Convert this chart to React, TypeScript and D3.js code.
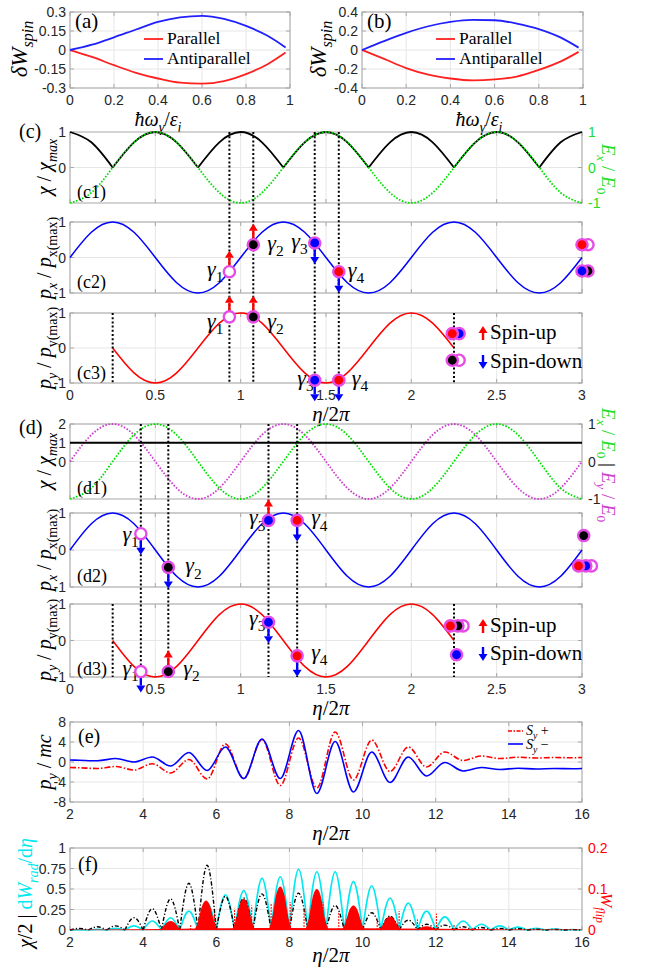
import React, { useEffect, useRef } from 'react';
import * as d3 from 'd3';

// ---------- (a), (b): spin-resolved emission difference ----------
const photonEnergy = [0, 0.1, 0.2, 0.3, 0.4, 0.5, 0.6, 0.7, 0.8, 0.9, 0.98];
const parallelA = [0, -0.055, -0.12, -0.18, -0.225, -0.258, -0.265, -0.245, -0.19, -0.11, -0.02];
const antiparallelA = [0, 0.042, 0.1, 0.162, 0.222, 0.258, 0.27, 0.245, 0.19, 0.11, 0.02];
const parallelB = [0, -0.094, -0.19, -0.26, -0.3, -0.32, -0.31, -0.28, -0.21, -0.12, -0.02];
const antiparallelB = [0, 0.094, 0.18, 0.25, 0.296, 0.317, 0.313, 0.278, 0.22, 0.13, 0.025];
const xTicksAB = [0, 0.2, 0.4, 0.6, 0.8, 1];
const yTicksA = [-0.3, -0.15, 0, 0.15, 0.3];
const yTicksB = [-0.4, -0.2, 0, 0.2, 0.4];

// ---------- (c), (d): fields and momenta over three periods ----------
const etaGrid = [0, 0.125, 0.25, 0.375, 0.5, 0.625, 0.75, 0.875, 1, 1.125, 1.25, 1.375, 1.5, 1.625, 1.75, 1.875, 2, 2.125, 2.25, 2.375, 2.5, 2.625, 2.75, 2.875, 3];
const exField = [-1, -0.71, 0, 0.71, 1, 0.71, 0, -0.71, -1, -0.71, 0, 0.71, 1, 0.71, 0, -0.71, -1, -0.71, 0, 0.71, 1, 0.71, 0, -0.71, -1];
const chiLinear = [1, 0.71, 0, 0.71, 1, 0.71, 0, 0.71, 1, 0.71, 0, 0.71, 1, 0.71, 0, 0.71, 1, 0.71, 0, 0.71, 1, 0.71, 0, 0.71, 1];
const eyField = [0, 0.71, 1, 0.71, 0, -0.71, -1, -0.71, 0, 0.71, 1, 0.71, 0, -0.71, -1, -0.71, 0, 0.71, 1, 0.71, 0, -0.71, -1, -0.71, 0];
const pxMomentum = [0, 0.71, 1, 0.71, 0, -0.71, -1, -0.71, 0, 0.71, 1, 0.71, 0, -0.71, -1, -0.71, 0, 0.71, 1, 0.71, 0, -0.71, -1, -0.71, 0];
const pyEta = [0.25, 0.375, 0.5, 0.625, 0.75, 0.875, 1, 1.125, 1.25, 1.375, 1.5, 1.625, 1.75, 1.875, 2, 2.125, 2.25];
const pyMomentum = [0, -0.71, -1, -0.71, 0, 0.71, 1, 0.71, 0, -0.71, -1, -0.71, 0, 0.71, 1, 0.71, 0];
const chiCircularEta = [0, 3];
const chiCircular = [1, 1];
const etaTicks = [0, 0.5, 1, 1.5, 2, 2.5, 3];

// photon emissions gamma1..gamma4
const photonFill = ['#ffffff', '#000000', '#0000ff', '#ff0000'];
const cEmitEta = [0.934, 1.074, 1.434, 1.575];
const cEmitPx = [-0.4, 0.36, 0.41, -0.4];
const cEmitPy = [0.89, 0.89, -0.92, -0.92];
const cSpinPx = ['up', 'up', 'down', 'down'];
const cSpinPy = ['up', 'up', 'down', 'down'];
const dEmitEta = [0.415, 0.576, 1.163, 1.331];
const dEmitPx = [0.44, -0.47, 0.8, 0.8];
const dEmitPy = [-0.85, -0.85, 0.5, -0.42];
const dSpinPx = ['down', 'down', 'up', 'down'];
const dSpinPy = ['down', 'up', 'down', 'down'];
const cuts = [0.25, 2.25];

// final electron states [eta, value, fill], back to front
const cEndPx = [[3.035, 0.36, '#ffffff'], [3.0, 0.36, '#ff0000'], [3.035, -0.38, '#000000'], [3.0, -0.38, '#0000ff']];
const cEndPy = [[2.28, 0.41, '#0000ff'], [2.24, 0.41, '#ff0000'], [2.28, -0.35, '#ffffff'], [2.24, -0.35, '#000000']];
const dEndPx = [[3.01, 0.39, '#000000'], [3.055, -0.43, '#ffffff'], [3.022, -0.43, '#0000ff'], [2.98, -0.43, '#ff0000']];
const dEndPy = [[2.303, 0.4, '#ffffff'], [2.273, 0.4, '#000000'], [2.229, 0.4, '#ff0000'], [2.265, -0.39, '#0000ff']];

// ---------- (e): transverse momentum ----------
const etaE = [2, 2.25, 2.75, 3.25, 3.75, 4.25, 4.75, 5.25, 5.75, 6.25, 6.75, 7.25, 7.75, 8.25, 8.75, 9.25, 9.75, 10.25, 10.75, 11.25, 11.75, 12.25, 12.75, 13.25, 13.75, 14.25, 14.75, 15.25, 15.75, 16];
const pySpinUp = [-1.1, -1.15, -1.3, -0.9, -1.6, -0.35, -2.2, 0.5, -3.4, 3.6, -3.3, 4.5, -4.7, 4.8, -5.2, 6.0, -3.6, 4.4, -1.9, 3.0, -1.0, 2.0, 0.3, 1.2, 0.7, 0.95, 0.8, 0.9, 0.85, 0.9];
const pySpinDown = [0.4, 0.35, 0.25, 0.7, 0.0, 1.0, -0.8, 1.9, -1.7, 3.0, -3.3, 4.6, -3.3, 6.3, -6.3, 4.1, -6.0, 2.0, -4.1, 1.0, -2.8, -0.1, -1.8, -1.1, -1.5, -1.25, -1.4, -1.3, -1.35, -1.3];
const longTicks = [2, 4, 6, 8, 10, 12, 14, 16];
const pyTicks = [-8, -4, 0, 4, 8];

// ---------- (f): chi, radiation rate, spin-flip probability ----------
const archStarts = [2, 2.5, 3, 3.5, 4, 4.5, 5, 5.5, 6, 6.5, 7, 7.5, 8, 8.5, 9, 9.5, 10, 10.5, 11, 11.5, 12, 12.5, 13, 13.5, 14, 14.5, 15, 15.5];
const chiHalf = [0.02, 0.04, 0.05, 0.15, 0.26, 0.38, 0.57, 0.79, 0.41, 0.39, 0.44, 0.42, 0.45, 0.37, 0.3, 0.27, 0.21, 0.17, 0.12, 0.07, 0.06, 0.04, 0.03, 0.02, 0.015, 0.01, 0.008, 0.005];
const radRate = [0.005, 0.01, 0.02, 0.05, 0.11, 0.15, 0.23, 0.33, 0.43, 0.48, 0.63, 0.65, 0.74, 0.71, 0.71, 0.59, 0.54, 0.39, 0.33, 0.23, 0.16, 0.11, 0.07, 0.05, 0.035, 0.02, 0.012, 0.006];
const flipHumpEta = [4.75, 5.72, 6.75, 7.75, 8.75, 9.75, 10.75, 11.75, 12.75];
const flipHumpHeight = [0.022, 0.072, 0.076, 0.106, 0.1, 0.06, 0.033, 0.009, 0.003];
const humpOffsets = [-0.32, -0.22, -0.12, 0, 0.12, 0.22, 0.32];
const humpProfile = [0, 0.28, 0.78, 1, 0.78, 0.28, 0];
const flipSpikeEta = [5.3, 5.95, 6.5, 6.97, 7.5, 8.02, 8.4, 8.92, 9.35, 9.9, 10.4, 11.0, 11.5, 12.02, 12.5, 13.0];
const flipSpikeHeight = [0.012, 0.04, 0.052, 0.06, 0.064, 0.068, 0.05, 0.068, 0.042, 0.038, 0.03, 0.046, 0.026, 0.04, 0.014, 0.006];
const flipFloorEta = [2, 4, 6, 8, 10, 12, 14, 16];
const flipFloor = [0.001, 0.002, 0.004, 0.005, 0.004, 0.003, 0.0015, 0.001];
const fTicks = [0, 0.25, 0.5, 0.75, 1];
const flipTicks = [0, 0.1, 0.2];

const W = 659;
const H = 973;
const SERIF = 'Liberation Serif, DejaVu Serif, serif';
const SANS = 'Liberation Sans, DejaVu Sans, sans-serif';
const GRID = '#e6e6e6';
const BOX = '#a8a8a8';
const RING = '#e64ce6';
const GREEN = '#00e000';
const GREEN_TXT = '#22dd22';
const MAGENTA = '#cc40cc';
const CYAN = '#00e8f0';

function frame(svg, o) {
  const g = svg.append('g');
  const x = d3.scaleLinear().domain(o.xd).range([o.l, o.r]);
  const y = d3.scaleLinear().domain(o.yd).range([o.b, o.t]);
  const gridY = o.gridY || o.yt;
  o.xt.forEach(t => {
    g.append('line').attr('x1', x(t)).attr('x2', x(t)).attr('y1', o.t).attr('y2', o.b).attr('stroke', GRID);
  });
  gridY.forEach(t => {
    g.append('line').attr('x1', o.l).attr('x2', o.r).attr('y1', y(t)).attr('y2', y(t)).attr('stroke', GRID);
  });
  g.append('rect').attr('x', o.l).attr('y', o.t).attr('width', o.r - o.l).attr('height', o.b - o.t)
    .attr('fill', 'none').attr('stroke', BOX);
  const tl = 4;
  o.xt.forEach(t => {
    g.append('line').attr('x1', x(t)).attr('x2', x(t)).attr('y1', o.b).attr('y2', o.b - tl).attr('stroke', BOX);
    g.append('line').attr('x1', x(t)).attr('x2', x(t)).attr('y1', o.t).attr('y2', o.t + tl).attr('stroke', BOX);
  });
  o.yt.forEach(t => {
    g.append('line').attr('x1', o.l).attr('x2', o.l + tl).attr('y1', y(t)).attr('y2', y(t)).attr('stroke', BOX);
    if (!o.rightAxis) g.append('line').attr('x1', o.r).attr('x2', o.r - tl).attr('y1', y(t)).attr('y2', y(t)).attr('stroke', BOX);
  });
  if (o.xLab) {
    o.xt.forEach(t => {
      g.append('text').attr('x', x(t)).attr('y', o.b + 17).attr('text-anchor', 'middle')
        .style('font-family', SANS).attr('font-size', 14).attr('fill', '#262626').text(String(t));
    });
  }
  const yl = o.yLabTicks || o.yt;
  yl.forEach(t => {
    g.append('text').attr('x', o.l - 4).attr('y', y(t) + 5).attr('text-anchor', 'end')
      .style('font-family', SANS).attr('font-size', 14).attr('fill', '#262626').text(String(t));
  });
  return { x, y, o };
}

function rightAxis(svg, p, domain, ticks, color) {
  const o = p.o;
  const y = d3.scaleLinear().domain(domain).range([o.b, o.t]);
  ticks.forEach(t => {
    svg.append('line').attr('x1', o.r).attr('x2', o.r - 4).attr('y1', y(t)).attr('y2', y(t)).attr('stroke', BOX);
    svg.append('text').attr('x', o.r + 6).attr('y', y(t) + 5).style('font-family', SANS).attr('font-size', 14)
      .attr('fill', color).text(String(t));
  });
  return y;
}

function rich(g, parts, size, opt) {
  const t = g.append('text').style('font-family', SERIF).attr('font-size', size)
    .attr('fill', opt.fill || '#000').attr('text-anchor', opt.anchor || 'start');
  if (opt.rotate) t.attr('transform', `translate(${opt.x},${opt.y}) rotate(${opt.rotate})`);
  else t.attr('x', opt.x).attr('y', opt.y);
  let shift = 0;
  parts.forEach(p => {
    const target = p.sub ? size * 0.28 : 0;
    const ts = t.append('tspan').text(p.t).attr('dy', target - shift)
      .attr('font-size', p.sub ? size * 0.7 : size).attr('font-style', p.i ? 'italic' : 'normal');
    if (p.c) ts.attr('fill', p.c);
    shift = target;
  });
  return t;
}

function plain(g, x, y, txt, size, anchor = 'start') {
  return g.append('text').attr('x', x).attr('y', y).style('font-family', SERIF).attr('font-size', size)
    .attr('text-anchor', anchor).text(txt);
}

function spinArrow(g, x, y, dir, len) {
  const color = dir === 'up' ? '#ff0000' : '#0000ff';
  const s = dir === 'up' ? -1 : 1;
  const tip = y + s * len;
  const neck = tip - s * 7;
  g.append('line').attr('x1', x).attr('x2', x).attr('y1', y).attr('y2', neck).attr('stroke', color).attr('stroke-width', 2.4);
  g.append('path').attr('d', `M${x},${tip}L${x - 4.5},${neck}L${x + 4.5},${neck}Z`).attr('fill', color);
}

function dot(g, x, y, fill) {
  g.append('circle').attr('cx', x).attr('cy', y).attr('r', 5.6).attr('fill', fill).attr('stroke', RING).attr('stroke-width', 2.4);
}

function curve(g, sc, xs, ys, color, width, dash, kind = d3.curveNatural) {
  const line = d3.line().x(d => sc.x(d[0])).y(d => sc.y(d[1])).curve(kind);
  const p = g.append('path').attr('d', line(xs.map((v, i) => [v, ys[i]])))
    .attr('fill', 'none').attr('stroke', color).attr('stroke-width', width);
  if (dash) p.attr('stroke-dasharray', dash);
  return p;
}

function gammaLabel(g, x, y, k, anchor) {
  rich(g, [{ t: 'γ', i: true }, { t: String(k), sub: true }], 22, { x, y, anchor });
}

function emissions(g, sc, etas, vals, spins, ldx, ldy) {
  etas.forEach((e, i) => {
    const side = ldx[i] < 0 ? 'end' : 'start';
    gammaLabel(g, sc.x(e) + ldx[i], sc.y(vals[i]) + ldy[i], i + 1, side);
  });
  etas.forEach((e, i) => spinArrow(g, sc.x(e), sc.y(vals[i]), spins[i], 21));
  etas.forEach((e, i) => dot(g, sc.x(e), sc.y(vals[i]), photonFill[i]));
}

function endStates(g, sc, list) {
  list.forEach(d => dot(g, sc.x(d[0]), sc.y(d[1]), d[2]));
}

function vDots(g, x, y1, y2) {
  g.append('line').attr('x1', x).attr('x2', x).attr('y1', y1).attr('y2', y2)
    .attr('stroke', '#000').attr('stroke-width', 2).attr('stroke-dasharray', '2,2.2');
}

function spinLegend(g, yUp, yDown) {
  spinArrow(g, 483, yUp + 7, 'up', 14);
  plain(g, 490, yUp + 6, 'Spin-up', 21);
  spinArrow(g, 483, yDown - 7, 'down', 14);
  plain(g, 490, yDown + 6, 'Spin-down', 21);
}

const etaLabel = [{ t: 'η', i: true }, { t: '/2' }, { t: 'π', i: true }];

export default function App() {
  const ref = useRef(null);

  useEffect(() => {
    const svg = d3.select(ref.current);
    svg.selectAll('*').remove();
    svg.append('rect').attr('width', W).attr('height', H).attr('fill', '#fff');

    // ---------- (a) and (b) ----------
    const abPanels = [
      { l: 70, r: 290, yd: [-0.3, 0.3], yt: yTicksA, par: parallelA, anti: antiparallelA, tag: '(a)', lx: 144, ylx: 27, xlx: 158 },
      { l: 362, r: 583, yd: [-0.4, 0.4], yt: yTicksB, par: parallelB, anti: antiparallelB, tag: '(b)', lx: 436, ylx: 326, xlx: 479 },
    ];
    abPanels.forEach(pp => {
      const p = frame(svg, { l: pp.l, r: pp.r, t: 12, b: 88, xd: [0, 1], yd: pp.yd, xt: xTicksAB, yt: pp.yt, xLab: true });
      curve(svg, p, photonEnergy, pp.par, '#ff2020', 1.8, null, d3.curveMonotoneX);
      curve(svg, p, photonEnergy, pp.anti, '#2020ff', 1.8, null, d3.curveMonotoneX);
      plain(svg, pp.l + 5, 28, pp.tag, 21);
      svg.append('line').attr('x1', pp.lx).attr('x2', pp.lx + 19).attr('y1', 39).attr('y2', 39).attr('stroke', '#ff2020').attr('stroke-width', 1.8);
      plain(svg, pp.lx + 23, 44, 'Parallel', 17.5);
      svg.append('line').attr('x1', pp.lx).attr('x2', pp.lx + 19).attr('y1', 59).attr('y2', 59).attr('stroke', '#2020ff').attr('stroke-width', 1.8);
      plain(svg, pp.lx + 23, 64, 'Antiparallel', 17.5);
      rich(svg, [{ t: 'δ', i: true }, { t: 'W', i: true }, { t: 'spin', i: true, sub: true }], 23,
        { x: pp.ylx, y: 49, rotate: -90, anchor: 'middle' });
      rich(svg, [{ t: 'ħω', i: true }, { t: 'γ', i: true, sub: true }, { t: '/' }, { t: 'ε', i: true }, { t: 'i', i: true, sub: true }], 20,
        { x: pp.xlx, y: 126, anchor: 'middle' });
    });

    // ---------- (c) linear polarization ----------
    const c1 = frame(svg, { l: 70, r: 582, t: 132, b: 203, xd: [0, 3], yd: [-1, 1], xt: etaTicks, yt: [0, 1], gridY: [0], rightAxis: true });
    const c1r = rightAxis(svg, c1, [-1, 1], [-1, 0, 1], GREEN_TXT);
    const c2 = frame(svg, { l: 70, r: 582, t: 222, b: 293, xd: [0, 3], yd: [-1, 1], xt: etaTicks, yt: [-1, 0, 1] });
    const c3 = frame(svg, { l: 70, r: 582, t: 313, b: 383, xd: [0, 3], yd: [-1, 1], xt: etaTicks, yt: [-1, 0, 1], xLab: true });

    // chi: draw arch by arch between zeros
    let start = 0;
    chiLinear.forEach((v, i) => {
      if ((v === 0 && i > 0) || i === chiLinear.length - 1) {
        curve(svg, c1, etaGrid.slice(start, i + 1), chiLinear.slice(start, i + 1), '#000', 1.8);
        start = i;
      }
    });
    curve(svg, { x: c1.x, y: c1r }, etaGrid, exField, GREEN, 1.8, '1.6,1.6');
    curve(svg, c2, etaGrid, pxMomentum, '#0000ff', 1.5);
    curve(svg, c3, pyEta, pyMomentum, '#ff0000', 1.5);

    cEmitEta.forEach(e => vDots(svg, c1.x(e), 132, 383));
    cuts.forEach(e => vDots(svg, c3.x(e), 313, 383));

    emissions(svg, c2, cEmitEta, cEmitPx, cSpinPx, [-6, 14, -7, 9], [4, 5, 5, 5]);
    emissions(svg, c3, cEmitEta, cEmitPy, cSpinPy, [-6, 14, -1, 13], [11, 11, 5, 5]);
    endStates(svg, c2, cEndPx);
    endStates(svg, c3, cEndPy);
    spinLegend(svg, 333, 362);

    plain(svg, 19, 138, '(c)', 20);
    plain(svg, 77, 198, '(c1)', 18);
    plain(svg, 77, 288, '(c2)', 18);
    plain(svg, 77, 379, '(c3)', 18);
    rich(svg, [{ t: 'χ', i: true }, { t: ' / ' }, { t: 'χ', i: true }, { t: 'max', i: true, sub: true }], 20, { x: 51, y: 167, rotate: -90, anchor: 'middle' });
    rich(svg, [{ t: 'p', i: true }, { t: 'x', i: true, sub: true }, { t: ' / ' }, { t: 'p', i: true }, { t: 'x(max)', sub: true }], 20, { x: 51, y: 258, rotate: -90, anchor: 'middle' });
    rich(svg, [{ t: 'p', i: true }, { t: 'y', i: true, sub: true }, { t: ' / ' }, { t: 'p', i: true }, { t: 'y(max)', sub: true }], 20, { x: 51, y: 348, rotate: -90, anchor: 'middle' });
    rich(svg, [{ t: 'E', i: true }, { t: 'x', i: true, sub: true }, { t: ' / ' }, { t: 'E', i: true }, { t: '0', sub: true }], 19, { x: 602, y: 169, rotate: 90, anchor: 'middle', fill: GREEN_TXT });
    rich(svg, etaLabel, 21, { x: 331, y: 421, anchor: 'middle' });

    // ---------- (d) circular polarization ----------
    const d1 = frame(svg, { l: 70, r: 582, t: 424, b: 499, xd: [0, 3], yd: [-2, 2], xt: etaTicks, yt: [0, 1, 2], rightAxis: true });
    const d1r = rightAxis(svg, d1, [-1, 1], [-1, 0, 1], '#262626');
    const d2 = frame(svg, { l: 70, r: 582, t: 513, b: 587, xd: [0, 3], yd: [-1, 1], xt: etaTicks, yt: [-1, 0, 1] });
    const d3p = frame(svg, { l: 70, r: 582, t: 604, b: 677, xd: [0, 3], yd: [-1, 1], xt: etaTicks, yt: [-1, 0, 1], xLab: true });

    curve(svg, { x: d1.x, y: d1r }, etaGrid, eyField, MAGENTA, 1.8, '1.6,1.6');
    curve(svg, { x: d1.x, y: d1r }, etaGrid, exField, GREEN, 1.8, '1.6,1.6');
    curve(svg, d1, chiCircularEta, chiCircular, '#000', 1.8, null, d3.curveLinear);
    curve(svg, d2, etaGrid, pxMomentum, '#0000ff', 1.5);
    curve(svg, d3p, pyEta, pyMomentum, '#ff0000', 1.5);

    dEmitEta.forEach(e => vDots(svg, d1.x(e), 424, 677));
    cuts.forEach(e => vDots(svg, d3p.x(e), 604, 677));

    emissions(svg, d2, dEmitEta, dEmitPx, dSpinPx, [-2, 17, -3, 14], [7, 5, 4, 4]);
    emissions(svg, d3p, dEmitEta, dEmitPy, dSpinPy, [-2, 15, -3, 14], [3, 3, 3, 3]);
    endStates(svg, d2, dEndPx);
    endStates(svg, d3p, dEndPy);
    spinLegend(svg, 626, 654);

    plain(svg, 19, 434, '(d)', 20);
    plain(svg, 77, 494, '(d1)', 18);
    plain(svg, 77, 582, '(d2)', 18);
    plain(svg, 77, 675, '(d3)', 18);
    rich(svg, [{ t: 'χ', i: true }, { t: ' / ' }, { t: 'χ', i: true }, { t: 'max', i: true, sub: true }], 20, { x: 51, y: 461, rotate: -90, anchor: 'middle' });
    rich(svg, [{ t: 'p', i: true }, { t: 'x', i: true, sub: true }, { t: ' / ' }, { t: 'p', i: true }, { t: 'x(max)', sub: true }], 20, { x: 51, y: 550, rotate: -90, anchor: 'middle' });
    rich(svg, [{ t: 'p', i: true }, { t: 'y', i: true, sub: true }, { t: ' / ' }, { t: 'p', i: true }, { t: 'y(max)', sub: true }], 20, { x: 51, y: 640, rotate: -90, anchor: 'middle' });
    rich(svg, [
      { t: 'E', i: true, c: GREEN_TXT }, { t: 'x', i: true, sub: true, c: GREEN_TXT }, { t: ' / ', c: GREEN_TXT }, { t: 'E', i: true, c: GREEN_TXT }, { t: '0', sub: true, c: GREEN_TXT },
      { t: ' | ' },
      { t: 'E', i: true, c: MAGENTA }, { t: 'y', i: true, sub: true, c: MAGENTA }, { t: ' / ', c: MAGENTA }, { t: 'E', i: true, c: MAGENTA }, { t: '0', sub: true, c: MAGENTA },
    ], 19, { x: 602, y: 465, rotate: 90, anchor: 'middle' });
    rich(svg, etaLabel, 21, { x: 331, y: 715, anchor: 'middle' });

    // ---------- (e) ----------
    const pe = frame(svg, { l: 70, r: 582, t: 722, b: 802, xd: [2, 16], yd: [-8, 8], xt: longTicks, yt: pyTicks, xLab: true });
    curve(svg, pe, etaE, pySpinUp, '#ff0000', 1.6, '6,2,1.5,2', d3.curveMonotoneX);
    curve(svg, pe, etaE, pySpinDown, '#0000ff', 1.6, null, d3.curveMonotoneX);
    plain(svg, 78, 743, '(e)', 20);
    svg.append('line').attr('x1', 508).attr('x2', 523).attr('y1', 731).attr('y2', 731).attr('stroke', '#ff0000').attr('stroke-width', 1.6).attr('stroke-dasharray', '4,1.5,1.5,1.5');
    rich(svg, [{ t: 'S', i: true }, { t: 'y', i: true, sub: true }, { t: ' +' }], 14, { x: 526, y: 735 });
    svg.append('line').attr('x1', 508).attr('x2', 523).attr('y1', 744).attr('y2', 744).attr('stroke', '#0000ff').attr('stroke-width', 1.6);
    rich(svg, [{ t: 'S', i: true }, { t: 'y', i: true, sub: true }, { t: ' −' }], 14, { x: 526, y: 749 });
    rich(svg, [{ t: 'p', i: true }, { t: 'y', i: true, sub: true }, { t: ' / ' }, { t: 'mc', i: true }], 20, { x: 51, y: 762, rotate: -90, anchor: 'middle' });
    rich(svg, etaLabel, 21, { x: 331, y: 840, anchor: 'middle' });

    // ---------- (f) ----------
    const pf = frame(svg, { l: 70, r: 582, t: 848, b: 930, xd: [2, 16], yd: [0, 1], xt: longTicks, yt: fTicks, xLab: true, rightAxis: true });
    const fr = rightAxis(svg, pf, [0, 0.2], flipTicks, '#ff0000');
    const arch = d3.line().x(d => pf.x(d[0])).y(d => pf.y(d[1])).curve(d3.curveNatural);
    archStarts.forEach((s, i) => {
      svg.append('path').attr('d', arch([[s, 0], [s + 0.25, radRate[i]], [s + 0.5, 0]]))
        .attr('fill', 'none').attr('stroke', CYAN).attr('stroke-width', 1.6);
    });
    archStarts.forEach((s, i) => {
      svg.append('path').attr('d', arch([[s, 0], [s + 0.25, chiHalf[i]], [s + 0.5, 0]]))
        .attr('fill', 'none').attr('stroke', '#000').attr('stroke-width', 1.4).attr('stroke-dasharray', '4,2,1.2,2');
    });
    const hump = d3.area().x(d => pf.x(d[0])).y0(fr(0)).y1(d => fr(d[1])).curve(d3.curveMonotoneX);
    flipHumpEta.forEach((c, i) => {
      svg.append('path').attr('d', hump(humpOffsets.map((o, k) => [c + o, flipHumpHeight[i] * humpProfile[k]])))
        .attr('fill', '#ff0000');
    });
    flipSpikeEta.forEach((e, i) => {
      svg.append('line').attr('x1', pf.x(e)).attr('x2', pf.x(e)).attr('y1', fr(0)).attr('y2', fr(flipSpikeHeight[i]))
        .attr('stroke', '#ff0000').attr('stroke-width', 1).attr('stroke-dasharray', '2,1');
    });
    svg.append('path').attr('d', hump(flipFloorEta.map((e, i) => [e, flipFloor[i]]))).attr('fill', '#ff0000');
    plain(svg, 78, 871, '(f)', 20);
    rich(svg, [
      { t: 'χ', i: true }, { t: '/2 | ' },
      { t: 'd', c: CYAN }, { t: 'W', i: true, c: CYAN }, { t: 'rad', i: true, sub: true, c: CYAN }, { t: '/d', c: CYAN }, { t: 'η', i: true, c: CYAN },
    ], 20, { x: 32, y: 893, rotate: -90, anchor: 'middle' });
    rich(svg, [{ t: 'W', i: true }, { t: 'flip', i: true, sub: true }], 17, { x: 601, y: 908, rotate: 90, anchor: 'middle', fill: '#ff0000' });
    rich(svg, etaLabel, 21, { x: 331, y: 962, anchor: 'middle' });
  }, []);

  return <svg ref={ref} width={W} height={H} style={{ position: 'absolute', left: 0, top: 0 }} />;
}
